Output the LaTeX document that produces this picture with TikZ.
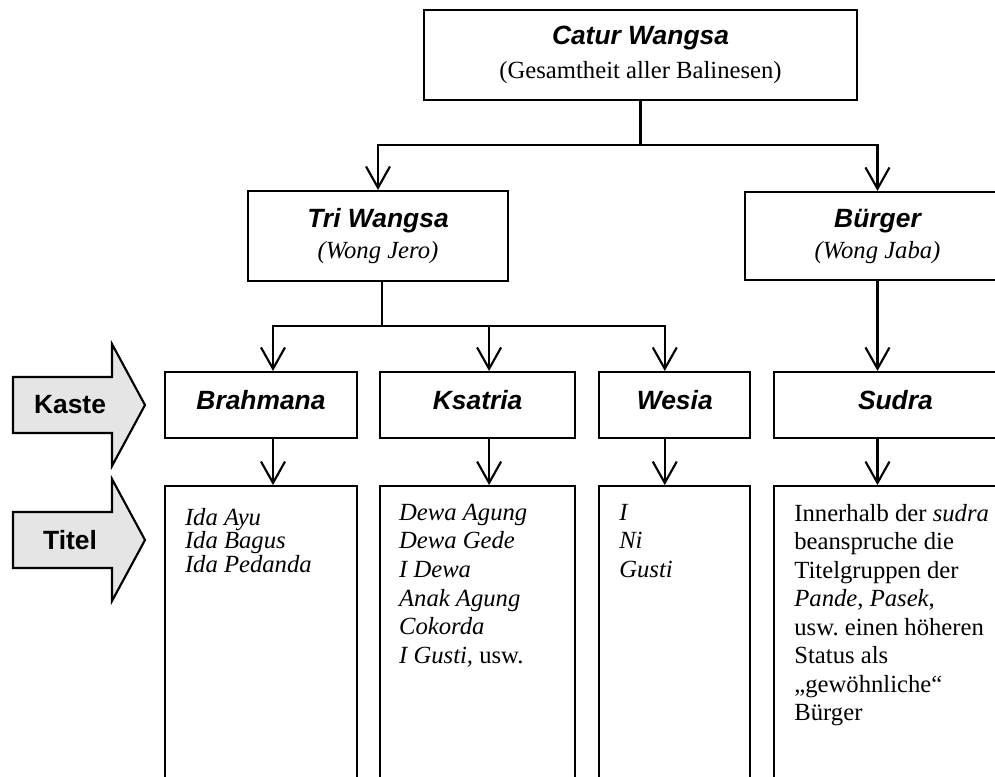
\documentclass[tikz,border=0pt]{standalone}
\usepackage{fontspec}
\setmainfont{Liberation Serif}
\setsansfont{Liberation Sans}
\usepackage{tikz}
\usetikzlibrary{arrows.meta,positioning}
\frenchspacing

\begin{document}
\begin{tikzpicture}[x=0.75pt, y=-0.75pt, line width=1.6pt,
  every node/.style={font=\fontsize{18.5}{21.5}\selectfont},
  box/.style={rectangle, draw, line width=1.6pt, inner sep=0pt, align=center},
  kastebox/.style={box, minimum height=49.5pt, text height=14.2pt, text depth=8pt, font=\fontsize{19.8}{23}\selectfont\sffamily\bfseries\itshape},
  titelbox/.style={box, minimum height=237pt},
  titeltext/.style={anchor=north west, inner sep=0pt, align=left, font=\fontsize{18.5}{21.4}\selectfont\itshape},
  bigarrow/.style={draw, line width=1.6pt, fill=black!10},
  arr/.style={-{Straight Barb[length=16pt, width=18pt]}}]
\useasboundingbox (0,0) rectangle (995,776);
\clip (0,0) rectangle (995,776);

% top levels
\node[box, minimum width=324.75pt, minimum height=67.5pt, font=\fontsize{18.5}{25.5}\selectfont] (catur) at (640.5,55)
  {{\fontsize{19.8}{23}\selectfont\sffamily\bfseries\itshape Catur Wangsa}\\(Gesamtheit aller Balinesen)};
\node[box, minimum width=195pt, minimum height=67.5pt, font=\fontsize{18.5}{23.25}\selectfont] (tri) at (378,236)
  {{\fontsize{19.8}{23}\selectfont\sffamily\bfseries\itshape Tri Wangsa}\\\textit{(Wong Jero)}};
\node[box, minimum width=198.75pt, minimum height=66pt, font=\fontsize{18.5}{23.25}\selectfont] (buerger) at (877.5,236)
  {{\fontsize{19.8}{23}\selectfont\sffamily\bfseries\itshape Bürger}\\\textit{(Wong Jaba)}};

% kasten
\node[kastebox, minimum width=144pt] (brahmana) at (261,405) {Brahmana};
\node[kastebox, minimum width=146.25pt, right=15.75pt of brahmana] (ksatria) {Ksatria};
\node[kastebox, minimum width=113.25pt, right=16.5pt of ksatria] (wesia) {Wesia};
\node[kastebox, minimum width=181.5pt, right=16.5pt of wesia] (sudra) {Sudra};

% titel
\node[titelbox, minimum width=144pt, below=34.5pt of brahmana] (brahmana-t) {};
\node[titelbox, minimum width=146.25pt, below=34.5pt of ksatria] (ksatria-t) {};
\node[titelbox, minimum width=113.25pt, below=34.5pt of wesia] (wesia-t) {};
\node[titelbox, minimum width=181.5pt, below=34.5pt of sudra] (sudra-t) {};

\node[titeltext, font=\fontsize{18.5}{17.6}\selectfont\itshape] (brahmana-txt) at ([shift={(20,22)}]brahmana-t.north west)
  {Ida Ayu\\Ida Bagus\\Ida Pedanda};
\node[titeltext] (ksatria-txt) at ([shift={(19,18)}]ksatria-t.north west)
  {Dewa Agung\\Dewa Gede\\I Dewa\\Anak Agung\\Cokorda\\I Gusti, \textup{usw.}};
\node[titeltext] (wesia-txt) at ([shift={(20,18)}]wesia-t.north west)
  {I\\Ni\\Gusti};
\node[titeltext, font=\fontsize{18.5}{21.4}\selectfont] (sudra-txt) at ([shift={(20,18)}]sudra-t.north west)
  {Innerhalb der \textit{sudra}\\beanspruche die\\Titelgruppen der\\\textit{Pande}, \textit{Pasek},\\usw. einen höheren\\Status als\\„gewöhnliche“\\Bürger};

% big arrows on the left
\foreach \y/\txt/\nm in {405/Kaste/kaste, 540/Titel/titel} {
  \draw[bigarrow] (13,\y-28) -- (112,\y-28) -- (112,\y-61) -- (145,\y) -- (112,\y+61) -- (112,\y+28) -- (13,\y+28) -- cycle;
  \node[font=\fontsize{19.8}{23}\selectfont\sffamily\bfseries] (\nm) at (70,\y) {\txt};
}

% connectors
\coordinate (j1) at (catur.south |- 0,145);
\draw (catur.south) -- (j1);
\draw[arr] (j1) -| (tri.north);
\draw[arr] (j1) -| (buerger.north);

\coordinate (j2) at ([xshift=3pt]tri.south |- 0,326);
\draw ([xshift=3pt]tri.south) -- (j2);
\draw[arr] (j2) -| ([xshift=9pt]brahmana.north);
\draw[arr] (j2) -| ([xshift=8.6pt]ksatria.north);
\draw[arr] (j2) -| ([xshift=-7.5pt]wesia.north);
\draw[arr] (buerger.south) -- (buerger.south |- sudra.north);

\draw[arr] ([xshift=9pt]brahmana.south) -- ([xshift=9pt]brahmana-t.north);
\draw[arr] ([xshift=8.6pt]ksatria.south) -- ([xshift=8.6pt]ksatria-t.north);
\draw[arr] ([xshift=-7.5pt]wesia.south) -- ([xshift=-7.5pt]wesia-t.north);
\draw[arr] (buerger.south |- sudra.south) -- (buerger.south |- sudra-t.north);
\end{tikzpicture}
\end{document}
